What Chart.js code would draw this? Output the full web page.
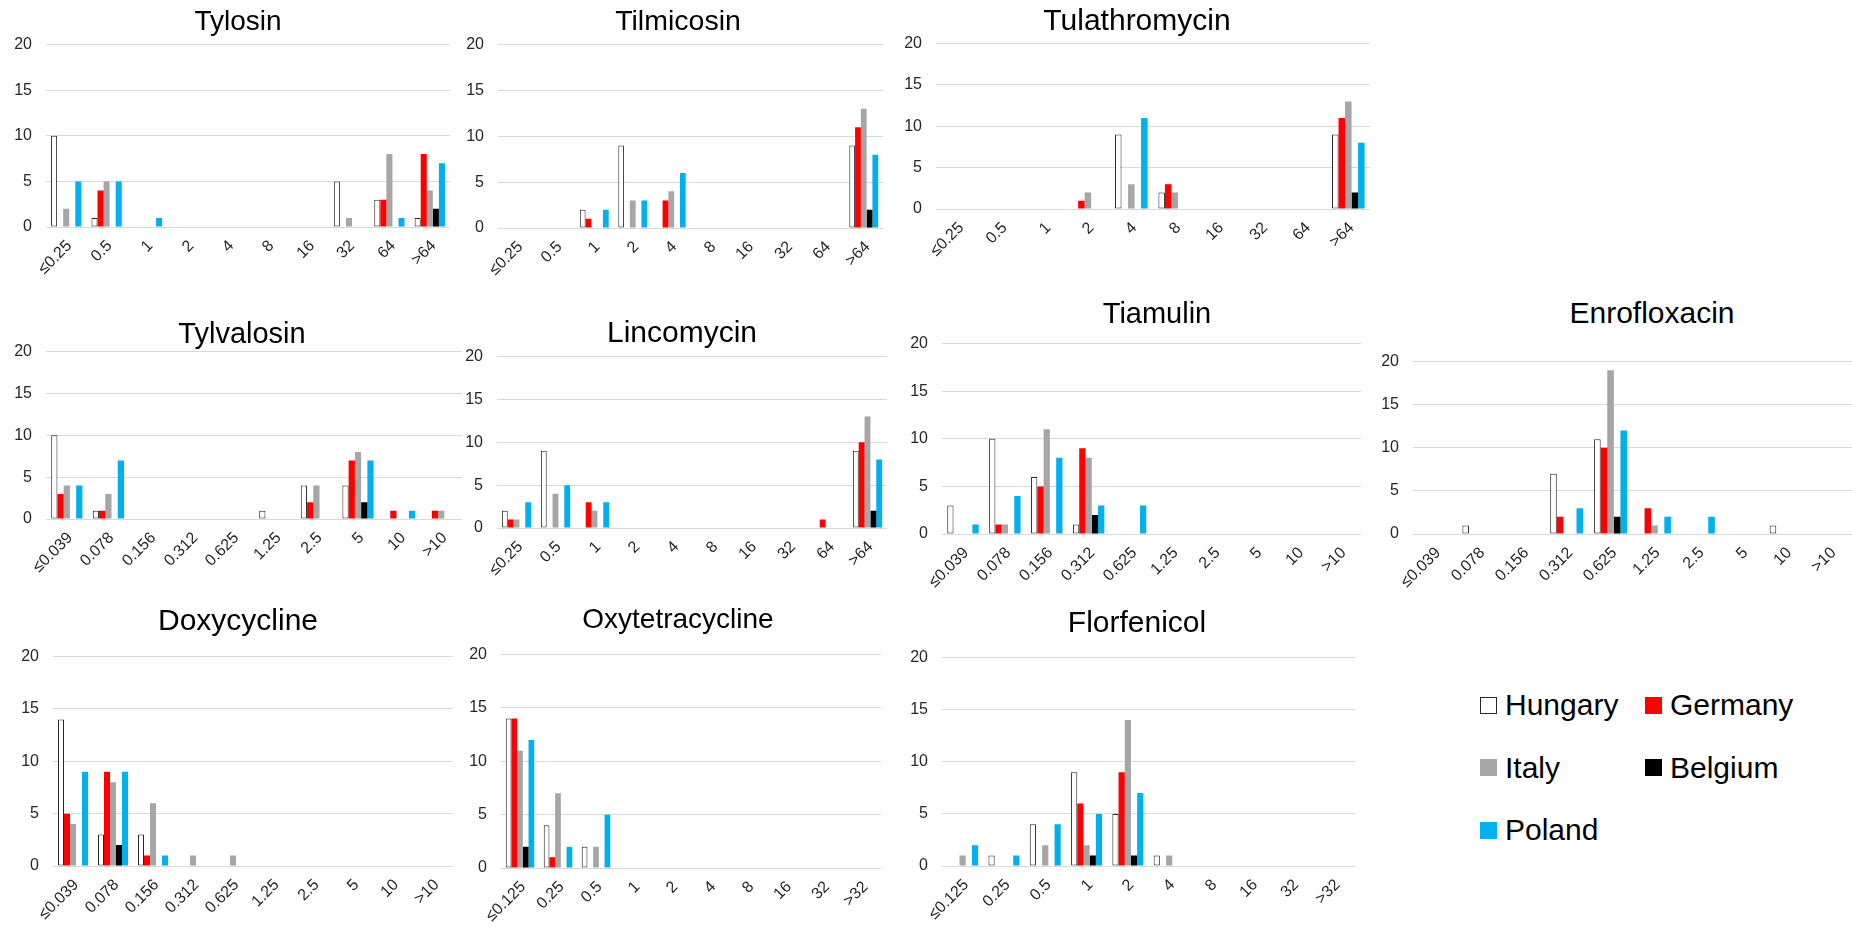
<!DOCTYPE html>
<html>
<head>
<meta charset="utf-8">
<script src="https://cdn.jsdelivr.net/npm/chart.js@4.4.1/dist/chart.umd.min.js"></script>
<style>
  html, body { margin: 0; padding: 0; background: #fff; overflow: hidden; }
  body { width: 1852px; height: 931px; position: relative; font-family: "Liberation Sans", Arial, sans-serif; }
  canvas { position: absolute; }
  .title { position: absolute; transform: translate(-50%, -50%); line-height: 1; white-space: nowrap; color: #000; }
  .mic { position: absolute; font-size: 16px; line-height: 16px; height: 16px; white-space: nowrap; color: #262626;
         transform-origin: 100% 50%; transform: rotate(-45deg); }
  #legend { position: absolute; left: 1480px; top: 674px; display: grid; grid-template-columns: 165px auto; grid-auto-rows: 62.5px; }
  .item { display: flex; align-items: center; font-size: 30px; line-height: 1; color: #000; }
  .swatch { width: 17px; height: 17px; box-sizing: border-box; margin-right: 8px; }
</style>
</head>
<body>
<div id="legend"></div>
<script>
// MIC steps (mg/L) on the x axes
const macrolideMics = ['≤0.25', '0.5', '1', '2', '4', '8', '16', '32', '64', '>64'];
const lowMics = ['≤0.039', '0.078', '0.156', '0.312', '0.625', '1.25', '2.5', '5', '10', '>10'];
const phenicolMics = ['≤0.125', '0.25', '0.5', '1', '2', '4', '8', '16', '32', '>32'];

const countries = ['Hungary', 'Germany', 'Italy', 'Belgium', 'Poland'];

// number of isolates per MIC step, one row per country (same order as above)
const tylosin = [
  [10, 1, 0, 0, 0, 0, 0, 5, 3, 1],
  [0, 4, 0, 0, 0, 0, 0, 0, 3, 8],
  [2, 5, 0, 0, 0, 0, 0, 1, 8, 4],
  [0, 0, 0, 0, 0, 0, 0, 0, 0, 2],
  [5, 5, 1, 0, 0, 0, 0, 0, 1, 7]
];
const tilmicosin = [
  [0, 0, 2, 9, 0, 0, 0, 0, 0, 9],
  [0, 0, 1, 0, 3, 0, 0, 0, 0, 11],
  [0, 0, 0, 3, 4, 0, 0, 0, 0, 13],
  [0, 0, 0, 0, 0, 0, 0, 0, 0, 2],
  [0, 0, 2, 3, 6, 0, 0, 0, 0, 8]
];
const tulathromycin = [
  [0, 0, 0, 0, 9, 2, 0, 0, 0, 9],
  [0, 0, 0, 1, 0, 3, 0, 0, 0, 11],
  [0, 0, 0, 2, 3, 2, 0, 0, 0, 13],
  [0, 0, 0, 0, 0, 0, 0, 0, 0, 2],
  [0, 0, 0, 0, 11, 0, 0, 0, 0, 8]
];
const tylvalosin = [
  [10, 1, 0, 0, 0, 1, 4, 4, 0, 0],
  [3, 1, 0, 0, 0, 0, 2, 7, 1, 1],
  [4, 3, 0, 0, 0, 0, 4, 8, 0, 1],
  [0, 0, 0, 0, 0, 0, 0, 2, 0, 0],
  [4, 7, 0, 0, 0, 0, 0, 7, 1, 0]
];
const lincomycin = [
  [2, 9, 0, 0, 0, 0, 0, 0, 0, 9],
  [1, 0, 3, 0, 0, 0, 0, 0, 1, 10],
  [1, 4, 2, 0, 0, 0, 0, 0, 0, 13],
  [0, 0, 0, 0, 0, 0, 0, 0, 0, 2],
  [3, 5, 3, 0, 0, 0, 0, 0, 0, 8]
];
const tiamulin = [
  [3, 10, 6, 1, 0, 0, 0, 0, 0, 0],
  [0, 1, 5, 9, 0, 0, 0, 0, 0, 0],
  [0, 1, 11, 8, 0, 0, 0, 0, 0, 0],
  [0, 0, 0, 2, 0, 0, 0, 0, 0, 0],
  [1, 4, 8, 3, 3, 0, 0, 0, 0, 0]
];
const enrofloxacin = [
  [0, 1, 0, 7, 11, 0, 0, 0, 1, 0],
  [0, 0, 0, 2, 10, 3, 0, 0, 0, 0],
  [0, 0, 0, 0, 19, 1, 0, 0, 0, 0],
  [0, 0, 0, 0, 2, 0, 0, 0, 0, 0],
  [0, 0, 0, 3, 12, 2, 2, 0, 0, 0]
];
const doxycycline = [
  [14, 3, 3, 0, 0, 0, 0, 0, 0, 0],
  [5, 9, 1, 0, 0, 0, 0, 0, 0, 0],
  [4, 8, 6, 1, 1, 0, 0, 0, 0, 0],
  [0, 2, 0, 0, 0, 0, 0, 0, 0, 0],
  [9, 9, 1, 0, 0, 0, 0, 0, 0, 0]
];
const oxytetracycline = [
  [14, 4, 2, 0, 0, 0, 0, 0, 0, 0],
  [14, 1, 0, 0, 0, 0, 0, 0, 0, 0],
  [11, 7, 2, 0, 0, 0, 0, 0, 0, 0],
  [2, 0, 0, 0, 0, 0, 0, 0, 0, 0],
  [12, 2, 5, 0, 0, 0, 0, 0, 0, 0]
];
const florfenicol = [
  [0, 1, 4, 9, 5, 1, 0, 0, 0, 0],
  [0, 0, 0, 6, 9, 0, 0, 0, 0, 0],
  [1, 0, 2, 2, 14, 1, 0, 0, 0, 0],
  [0, 0, 0, 1, 1, 0, 0, 0, 0, 0],
  [2, 1, 4, 5, 7, 0, 0, 0, 0, 0]
];

const yTicks = [0, 5, 10, 15, 20];

// styling
const fills = ['#ffffff', '#ff0000', '#a6a6a6', '#000000', '#00b0f0'];
const edges = ['#262626', '#ff0000', '#a6a6a6', '#000000', '#00b0f0'];
const fontFamily = '"Liberation Sans", Arial, sans-serif';

// plot box [left, right, top(20), bottom(0)] and title [x, y, size]
const panels = [
  { name: 'Tylosin', mics: macrolideMics, counts: tylosin, plot: [46, 450, 45, 227], head: [238, 21, 28] },
  { name: 'Tilmicosin', mics: macrolideMics, counts: tilmicosin, plot: [498, 883, 45, 228], head: [678, 20, 28.5] },
  { name: 'Tulathromycin', mics: macrolideMics, counts: tulathromycin, plot: [936, 1370, 44, 209], head: [1137, 20, 30] },
  { name: 'Tylvalosin', mics: lowMics, counts: tylvalosin, plot: [46, 462, 352, 519], head: [242, 333, 29] },
  { name: 'Lincomycin', mics: macrolideMics, counts: lincomycin, plot: [497, 887, 357, 528], head: [682, 332, 30] },
  { name: 'Tiamulin', mics: lowMics, counts: tiamulin, plot: [942, 1361, 344, 534], head: [1157, 313, 29] },
  { name: 'Enrofloxacin', mics: lowMics, counts: enrofloxacin, plot: [1413, 1852, 362, 534], head: [1652, 313, 30] },
  { name: 'Doxycycline', mics: lowMics, counts: doxycycline, plot: [53, 453, 657, 866], head: [238, 620, 30] },
  { name: 'Oxytetracycline', mics: phenicolMics, counts: oxytetracycline, plot: [501, 881, 655, 868], head: [678, 619, 28] },
  { name: 'Florfenicol', mics: phenicolMics, counts: florfenicol, plot: [942, 1355, 658, 866], head: [1137, 622, 30] }
];

const PAGE_W = 1852;
const Y_AXIS_W = 50;
const X_AXIS_H = 80;
const MIC_DROP = 16;   // gap between the zero line and the end of an x label

function chartConfig(p) {
  return {
    type: 'bar',
    data: {
      labels: p.mics,
      datasets: countries.map((c, i) => ({
        label: c,
        data: p.counts[i],
        backgroundColor: fills[i],
        borderColor: edges[i],
        borderWidth: i === 0 ? 1 : 0,
        borderSkipped: false,
        inflateAmount: 0
      }))
    },
    options: {
      responsive: false,
      animation: false,
      events: [],
      layout: { padding: { top: 12, right: 12, left: 0, bottom: 0 } },
      datasets: { bar: { categoryPercentage: 0.75, barPercentage: 1 } },
      plugins: { legend: { display: false }, tooltip: { enabled: false } },
      scales: {
        x: {
          grid: { display: false },
          border: { display: false },
          ticks: { display: false },
          afterFit: s => { s.height = X_AXIS_H; }
        },
        y: {
          min: yTicks[0],
          max: yTicks[yTicks.length - 1],
          grid: { color: '#d9d9d9', drawTicks: false },
          border: { display: false },
          ticks: {
            stepSize: yTicks[1] - yTicks[0], padding: 14,
            color: '#262626', font: { size: 16, family: fontFamily }
          },
          afterFit: s => { s.width = Y_AXIS_W; }
        }
      }
    }
  };
}

panels.forEach(p => {
  const [l, r, t, b] = p.plot;
  const cv = document.createElement('canvas');
  document.body.appendChild(cv);

  // first pass: measure how much room the axes and padding take around the plot area
  cv.width = (r - l) + 100;
  cv.height = (b - t) + 120;
  let ch = new Chart(cv, chartConfig(p));
  const a = ch.chartArea;
  const padL = a.left, padT = a.top;
  const padR = cv.width - a.right, padB = cv.height - a.bottom;
  ch.destroy();

  // second pass: size the canvas so the plot area lands on [l, r] x [t, b]
  const left = l - padL;
  cv.width = Math.round(padL + (r - l) + padR);
  cv.height = Math.round(padT + (b - t) + padB);
  cv.style.left = left + 'px';
  cv.style.top = (t - padT) + 'px';
  ch = new Chart(cv, chartConfig(p));

  // MIC labels, slanted 45°, ending under each category centre
  const xs = ch.scales.x;
  p.mics.forEach((m, i) => {
    const lab = document.createElement('div');
    lab.className = 'mic';
    lab.textContent = m;
    lab.style.right = (PAGE_W - (left + xs.getPixelForValue(i) + 3)) + 'px';
    lab.style.top = (b + MIC_DROP - 8) + 'px';
    document.body.appendChild(lab);
  });

  const title = document.createElement('div');
  title.className = 'title';
  title.textContent = p.name;
  title.style.left = p.head[0] + 'px';
  title.style.top = p.head[1] + 'px';
  title.style.fontSize = p.head[2] + 'px';
  document.body.appendChild(title);
});

// legend, two columns
const legend = document.getElementById('legend');
countries.forEach((c, i) => {
  const item = document.createElement('div');
  item.className = 'item';
  const sw = document.createElement('span');
  sw.className = 'swatch';
  sw.style.background = fills[i];
  if (i === 0) sw.style.border = '1px solid ' + edges[i];
  item.appendChild(sw);
  item.appendChild(document.createTextNode(c));
  legend.appendChild(item);
});
</script>
</body>
</html>
